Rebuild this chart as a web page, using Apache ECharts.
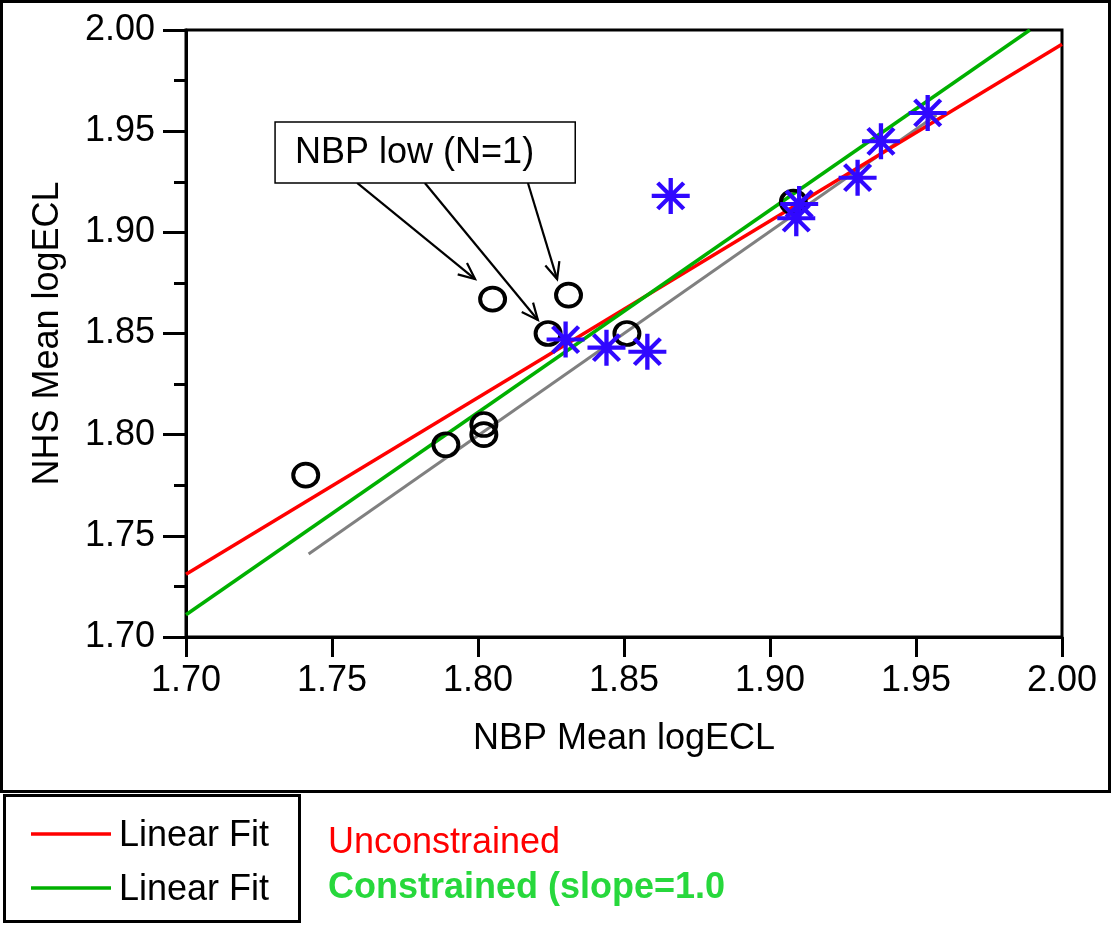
<!DOCTYPE html>
<html>
<head>
<meta charset="utf-8">
<script src="https://cdn.jsdelivr.net/npm/echarts@6/dist/echarts.min.js"></script>
<style>
  html, body { margin: 0; padding: 0; background: #fff; }
  #chart { width: 1112px; height: 925px; }
</style>
</head>
<body>
<div id="chart"></div>
<script>
// ---- data ----
const circleX = [1.741, 1.789, 1.802, 1.802, 1.805, 1.824, 1.831, 1.851, 1.908];
const circleY = [1.780, 1.795, 1.805, 1.800, 1.867, 1.850, 1.869, 1.850, 1.915];
const starX = [1.830, 1.844, 1.858, 1.866, 1.910, 1.909, 1.930, 1.938, 1.954];
const starY = [1.847, 1.843, 1.841, 1.918, 1.914, 1.907, 1.927, 1.945, 1.959];
const fitUnconX = [1.70, 2.00];
const fitUnconY = [1.731, 1.993];
const fitConX = [1.70, 1.989];
const fitConY = [1.711, 2.00];
const identityX = [1.742, 1.957];
const identityY = [1.741, 1.958];
const arrowStartX = [1.7586, 1.7818, 1.8171];
const arrowStartY = [1.9244, 1.9244, 1.9244];
const arrowEndX = [1.7990, 1.8205, 1.8271];
const arrowEndY = [1.8769, 1.8567, 1.8769];
const noteBox = [1.7305, 1.9545, 1.8333, 1.9244];
const noteText = 'NBP low (N=1)';
const axisMin = 1.70, axisMax = 2.00, axisStep = 0.05;
const xTitle = 'NBP Mean logECL';
const yTitle = 'NHS Mean logECL';
const legendLabels = ['Linear Fit', 'Linear Fit'];
const legendNotes = ['Unconstrained', 'Constrained (slope=1.0'];

const FONT = '"Liberation Sans", Arial, sans-serif';
const zip = (a, b) => a.map((v, i) => [v, b[i]]);

const chart = echarts.init(document.getElementById('chart'), null, { renderer: 'canvas' });

const starPath = 'path://M0,-18L0,18M-19,0L19,0M-13,-13L13,13M-13,13L13,-13';
const ovalPath = 'path://M-13,0A13,12 0 1,1 13,0A13,12 0 1,1 -13,0Z';

function renderArrow(params, api) {
  const p1 = api.coord([api.value(0), api.value(1)]);
  const p2 = api.coord([api.value(2), api.value(3)]);
  const ang = Math.atan2(p2[1] - p1[1], p2[0] - p1[0]);
  const L = 18, a = 0.42;
  const h1 = [p2[0] - L * Math.cos(ang - a), p2[1] - L * Math.sin(ang - a)];
  const h2 = [p2[0] - L * Math.cos(ang + a), p2[1] - L * Math.sin(ang + a)];
  return {
    type: 'group',
    children: [
      { type: 'line', shape: { x1: p1[0], y1: p1[1], x2: p2[0], y2: p2[1] }, style: { stroke: '#000', lineWidth: 2.2 } },
      { type: 'polyline', shape: { points: [h1, p2, h2] }, style: { stroke: '#000', lineWidth: 2.2, fill: null } }
    ]
  };
}

function renderNote(params, api) {
  const p1 = api.coord([api.value(0), api.value(1)]);
  const p2 = api.coord([api.value(2), api.value(3)]);
  return {
    type: 'group',
    children: [
      { type: 'rect', shape: { x: p1[0], y: p1[1], width: p2[0] - p1[0], height: p2[1] - p1[1] },
        style: { fill: '#fff', stroke: '#000', lineWidth: 1.5 } },
      { type: 'text', style: { text: noteText, x: p1[0] + 20, y: (p1[1] + p2[1]) / 2 + 1,
        verticalAlign: 'middle', align: 'left', font: '36px ' + FONT, fill: '#000' } }
    ]
  };
}

const option = {
  animation: false,
  backgroundColor: '#fff',
  grid: { left: 186, right: 50, top: 30, bottom: 288, show: true, borderColor: '#000', borderWidth: 3, backgroundColor: 'transparent' },
  xAxis: {
    type: 'value', min: axisMin, max: axisMax, interval: axisStep,
    name: xTitle, nameLocation: 'middle', nameGap: 84,
    nameTextStyle: { fontFamily: FONT, fontSize: 36, color: '#000' },
    axisLine: { show: true, lineStyle: { color: '#000', width: 3 } },
    axisTick: { show: true, length: 20, lineStyle: { color: '#000', width: 3 } },
    axisLabel: { fontFamily: FONT, fontSize: 36, color: '#000', margin: 26, formatter: v => v.toFixed(2) },
    splitLine: { show: false }
  },
  yAxis: {
    type: 'value', min: axisMin, max: axisMax, interval: axisStep,
    name: yTitle, nameLocation: 'middle', nameGap: 120, nameRotate: 90,
    nameTextStyle: { fontFamily: FONT, fontSize: 36, color: '#000' },
    axisLine: { show: true, lineStyle: { color: '#000', width: 3 } },
    axisTick: { show: true, length: 23, lineStyle: { color: '#000', width: 3 } },
    minorTick: { show: true, splitNumber: 2, length: 12, lineStyle: { color: '#000', width: 3 } },
    axisLabel: { fontFamily: FONT, fontSize: 36, color: '#000', margin: 31, formatter: v => v.toFixed(2) },
    splitLine: { show: false }, minorSplitLine: { show: false }
  },
  series: [
    { type: 'line', name: 'identity', data: zip(identityX, identityY), symbol: 'none', lineStyle: { color: '#808080', width: 3 }, z: 2 },
    { type: 'line', name: 'Unconstrained', data: zip(fitUnconX, fitUnconY), symbol: 'none', lineStyle: { color: '#ff0000', width: 3.5 }, z: 3 },
    { type: 'line', name: 'Constrained', data: zip(fitConX, fitConY), symbol: 'none', lineStyle: { color: '#00b000', width: 3.5 }, z: 3 },
    { type: 'scatter', name: 'NBP low', data: zip(circleX, circleY), symbol: ovalPath, symbolSize: [25, 23],
      itemStyle: { color: 'rgba(0,0,0,0)', borderColor: '#000', borderWidth: 3.8, opacity: 1 }, z: 4 },
    { type: 'scatter', name: 'Other', data: zip(starX, starY), symbol: starPath, symbolSize: [38, 36],
      itemStyle: { color: 'rgba(0,0,0,0)', borderColor: '#3008ff', borderWidth: 4.2, opacity: 1 }, z: 5 },
    { type: 'custom', name: 'arrows', renderItem: renderArrow, clip: false,
      data: arrowStartX.map((v, i) => [v, arrowStartY[i], arrowEndX[i], arrowEndY[i]]),
      encode: { x: [0, 2], y: [1, 3] }, z: 6, silent: true },
    { type: 'custom', name: 'note', renderItem: renderNote, clip: false,
      data: [noteBox], encode: { x: [0, 2], y: [1, 3] }, z: 7, silent: true }
  ],
  graphic: [
    { type: 'rect', shape: { x: 1.5, y: 1.5, width: 1108, height: 790 }, style: { fill: null, stroke: '#000', lineWidth: 3 }, z: 100 },
    { type: 'rect', shape: { x: 4.5, y: 795.5, width: 295, height: 126 }, style: { fill: null, stroke: '#000', lineWidth: 3 }, z: 100 },
    { type: 'line', shape: { x1: 31, y1: 834, x2: 111, y2: 834 }, style: { stroke: '#ff0000', lineWidth: 3.5 }, z: 100 },
    { type: 'line', shape: { x1: 31, y1: 888, x2: 111, y2: 888 }, style: { stroke: '#00b000', lineWidth: 3.5 }, z: 100 },
    { type: 'text', style: { text: legendLabels[0], x: 119, y: 836, verticalAlign: 'middle', font: '36px ' + FONT, fill: '#000' }, z: 100 },
    { type: 'text', style: { text: legendLabels[1], x: 119, y: 890, verticalAlign: 'middle', font: '36px ' + FONT, fill: '#000' }, z: 100 },
    { type: 'text', style: { text: legendNotes[0], x: 328, y: 843, verticalAlign: 'middle', font: '36px ' + FONT, fill: '#ff0000' }, z: 100 },
    { type: 'text', style: { text: legendNotes[1], x: 328, y: 888, verticalAlign: 'middle', font: 'bold 36px ' + FONT, fill: '#27d83c' }, z: 100 }
  ]
};
chart.setOption(option);
</script>
</body>
</html>
